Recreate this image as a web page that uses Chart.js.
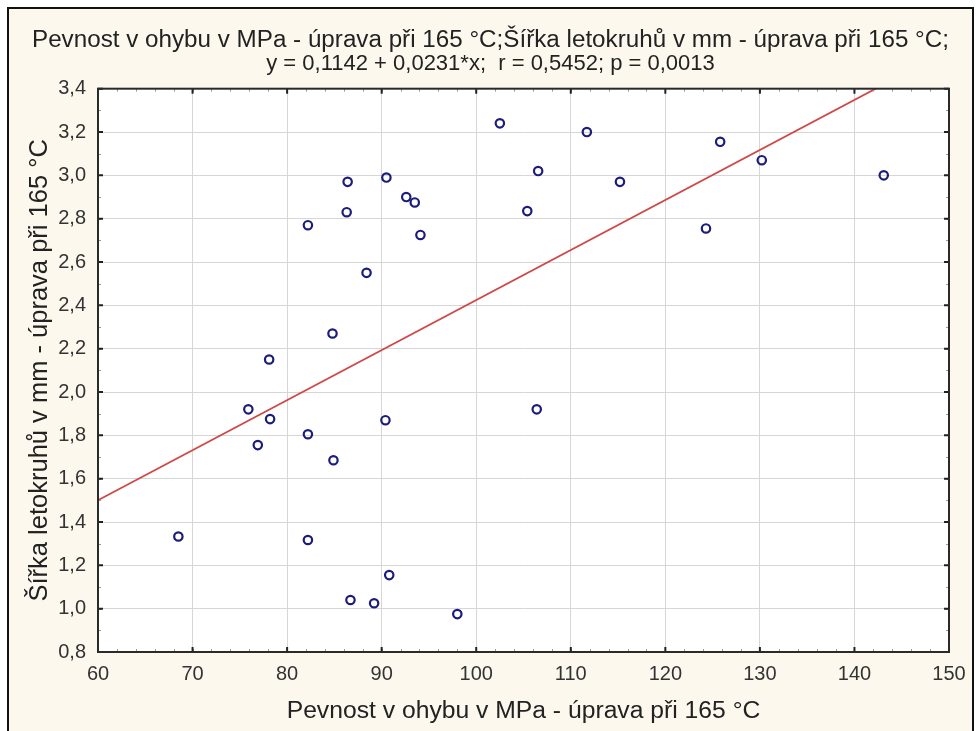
<!DOCTYPE html>
<html><head><meta charset="utf-8">
<script src="https://cdn.jsdelivr.net/npm/chart.js@4.4.1/dist/chart.umd.min.js"></script>
<style>html,body{margin:0;padding:0;background:#fff;overflow:hidden}canvas{display:block}</style>
</head><body>
<canvas id="c" width="976" height="731"></canvas>
<script>
const titleText = 'Pevnost v ohybu v MPa - úprava při 165 °C;Šířka letokruhů v mm - úprava při 165 °C;';
const subtitleText = 'y = 0,1142 + 0,0231*x;  r = 0,5452; p = 0,0013';
const xAxisTitle = 'Pevnost v ohybu v MPa - úprava při 165 °C';
const yAxisTitle = 'Šířka letokruhů v mm - úprava při 165 °C';

const bendingStrength = [102.5, 86.4, 90.5, 92.6, 93.5, 86.3, 82.2, 94.1, 88.4, 84.8, 78.1, 75.9, 78.2, 90.4, 82.2, 76.9, 84.9, 68.5, 82.2, 90.8, 86.7, 89.2, 98.0, 111.7, 106.55, 105.4, 115.2, 124.3, 125.8, 130.2, 143.1, 106.4];
const ringWidth = [3.24, 2.97, 2.99, 2.90, 2.875, 2.83, 2.77, 2.725, 2.55, 2.27, 2.15, 1.92, 1.875, 1.87, 1.805, 1.755, 1.685, 1.333, 1.317, 1.155, 1.04, 1.025, 0.975, 3.20, 3.02, 2.835, 2.97, 2.755, 3.155, 3.07, 3.00, 1.92];

const xTickValues = [60, 70, 80, 90, 100, 110, 120, 130, 140, 150];
const yTickValues = [0.8, 1.0, 1.2, 1.4, 1.6, 1.8, 2.0, 2.2, 2.4, 2.6, 2.8, 3.0, 3.2, 3.4];

const fitIntercept = 0.1142;
const fitSlope = 0.0231;
const fitX = [60, 150];

const FONT = "'Liberation Sans', Arial, sans-serif";

const framePlugin = {
  id: 'frame',
  beforeDraw(chart) {
    const ctx = chart.ctx, W = chart.width, H = chart.height, a = chart.chartArea;
    ctx.save();
    ctx.fillStyle = '#ffffff';
    ctx.fillRect(0, 0, W, H);
    ctx.fillStyle = '#fcf8ee';
    ctx.fillRect(8, 8, 965, H);
    ctx.strokeStyle = '#111';
    ctx.lineWidth = 2;
    ctx.beginPath();
    ctx.moveTo(8, H + 5); ctx.lineTo(8, 8); ctx.lineTo(973, 8); ctx.lineTo(973, H + 5);
    ctx.stroke();
    ctx.fillStyle = '#ffffff';
    ctx.fillRect(a.left, a.top, a.right - a.left, a.bottom - a.top);
    ctx.restore();
  },
  afterDraw(chart) {
    const ctx = chart.ctx, a = chart.chartArea;
    const xs = chart.scales.x, ys = chart.scales.y;
    ctx.save();
    ctx.strokeStyle = '#9a9a9a';
    ctx.lineWidth = 1;
    ctx.beginPath();
    for (let v = xs.min; v <= xs.max + 1e-9; v += 2) {
      const px = Math.round(xs.getPixelForValue(v)) + 0.5;
      ctx.moveTo(px, a.top); ctx.lineTo(px, a.top + 3);
      ctx.moveTo(px, a.bottom); ctx.lineTo(px, a.bottom - 3);
    }
    for (let i = 0; i <= 26; i++) {
      const v = ys.min + i * 0.1;
      const py = Math.round(ys.getPixelForValue(v)) + 0.5;
      ctx.moveTo(a.left, py); ctx.lineTo(a.left + 3, py);
      ctx.moveTo(a.right, py); ctx.lineTo(a.right - 3, py);
    }
    ctx.stroke();
    ctx.strokeStyle = '#222';
    ctx.lineWidth = 2;
    ctx.beginPath();
    xTickValues.forEach(v => {
      const px = xs.getPixelForValue(v);
      ctx.moveTo(px, a.top); ctx.lineTo(px, a.top + 5);
      ctx.moveTo(px, a.bottom); ctx.lineTo(px, a.bottom - 5);
    });
    yTickValues.forEach(v => {
      const py = ys.getPixelForValue(v);
      ctx.moveTo(a.left, py); ctx.lineTo(a.left + 5, py);
      ctx.moveTo(a.right, py); ctx.lineTo(a.right - 5, py);
    });
    ctx.stroke();
    ctx.strokeStyle = '#2a2a2a';
    ctx.lineWidth = 2;
    ctx.strokeRect(a.left, a.top, a.right - a.left, a.bottom - a.top);
    ctx.restore();
  }
};

const points = bendingStrength.map((x, i) => ({ x: x, y: ringWidth[i] }));
const fitLine = fitX.map(x => ({ x: x, y: fitIntercept + fitSlope * x }));

new Chart(document.getElementById('c'), {
  type: 'scatter',
  data: {
    datasets: [
      {
        type: 'line',
        data: fitLine,
        borderColor: '#d04848',
        borderWidth: 1.8,
        pointRadius: 0,
        fill: false,
        order: 2
      },
      {
        data: points,
        pointStyle: 'circle',
        pointRadius: 4.2,
        borderWidth: 2.2,
        borderColor: '#1c1c7a',
        backgroundColor: 'rgba(255,255,255,0)',
        order: 1
      }
    ]
  },
  options: {
    responsive: false,
    animation: false,
    devicePixelRatio: 1,
    layout: { padding: { left: 32, right: 27, top: 0, bottom: 0 } },
    plugins: {
      legend: { display: false },
      tooltip: { enabled: false },
      title: {
        display: true,
        align: 'start',
        text: titleText,
        color: '#222',
        font: { family: FONT, size: 24.7, weight: 'normal', lineHeight: 1 },
        padding: { top: 28, bottom: 0 }
      },
      subtitle: {
        display: true,
        text: subtitleText,
        color: '#222',
        font: { family: FONT, size: 22, weight: 'normal', lineHeight: 1 },
        padding: { top: 0, bottom: 14 }
      }
    },
    scales: {
      x: {
        type: 'linear',
        min: 60, max: 150,
        afterBuildTicks: s => { s.ticks = xTickValues.map(v => ({ value: v })); },
        afterFit: s => { s.height = 79; },
        grid: { color: '#d6d6d6', lineWidth: 1, drawTicks: false },
        border: { display: false },
        ticks: { color: '#333', padding: 10, font: { family: FONT, size: 20 }, maxRotation: 0, callback: v => String(v) },
        title: { display: true, text: xAxisTitle, color: '#222', font: { family: FONT, size: 24.7, lineHeight: 1 }, padding: { top: 0, bottom: 7 } }
      },
      y: {
        type: 'linear',
        min: 0.8, max: 3.4,
        afterBuildTicks: s => { s.ticks = yTickValues.map(v => ({ value: v })); },
        afterFit: s => { s.width = 66; },
        grid: { color: '#d6d6d6', lineWidth: 1, drawTicks: false },
        border: { display: false },
        ticks: { color: '#333', padding: 12, font: { family: FONT, size: 20 }, callback: v => Number(v).toFixed(1).replace('.', ',') },
        title: { display: true, text: yAxisTitle, color: '#222', font: { family: FONT, size: 25.5, lineHeight: 1 }, padding: { top: -5, bottom: 0 } }
      }
    }
  },
  plugins: [framePlugin]
});
</script>
</body></html>
